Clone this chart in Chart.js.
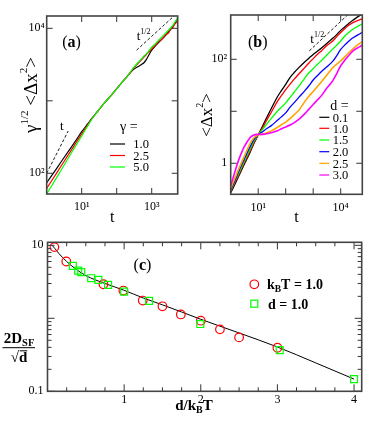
<!DOCTYPE html>
<html><head><meta charset="utf-8">
<script src="https://cdn.jsdelivr.net/npm/chart.js@4.4.1/dist/chart.umd.min.js"></script>
<style>
html,body{margin:0;padding:0;background:#fff;}
#wrap{position:relative;width:382px;height:439px;overflow:hidden;background:#fff;}
#wrap canvas{position:absolute;display:block;}
</style></head><body>
<div id="wrap">
<canvas id="cA" width="191" height="226" style="left:0;top:0;width:191px;height:226px"></canvas>
<canvas id="cB" width="191" height="226" style="left:191px;top:0;width:191px;height:226px"></canvas>
<canvas id="cC" width="382" height="213" style="left:0;top:226px;width:382px;height:213px"></canvas>
</div>
<script>
// ---------------- DATA ----------------
// panel (a)
const tA = [1,2,3,5,7,10,15,20,30,50,70,100,150,200,300,400,500,600,700,800,1000,1300,1600,2000,2500,3000,3500,4000,4500,5000,5500];
const msdGamma10 = [74,120,160,228,289,375,483,580,740,1000,1190,1470,1860,2180,2700,2950,3150,3350,3700,4150,5000,5800,6400,7200,8000,8900,9700,10500,11500,12500,13500];
const msdGamma25 = [62,104,141,207,268,350,470,575,740,1000,1190,1470,1860,2180,2800,3250,3650,4000,4350,4650,5200,5900,6600,7100,8200,8600,9800,10200,11400,12000,13500];
const msdGamma50 = [52,90,125,189,246,327,455,570,740,1000,1190,1470,1860,2180,2850,3350,3750,4150,4450,4800,5500,6200,6900,7700,8600,9400,10200,11000,12000,13000,14200];
const gammaLabels = ['1.0','2.5','5.0'];
const guideA1T = [1, 4.1], guideA1V = [100, 383];
const guideA2T = [370, 4600], guideA2V = [5000, 15200];
const aXTicks = [10,100,1000], aXLabels = ['10¹','','10³'];
const aYTicks = [100,1000,10000], aYLabels = ['10²','','10⁴'];

// panel (b)
const tB = [1,1.5,2,3,5,7,10,15,20,30,50,70,100,150,200,300,500,700,1000,1500,2000,3000,5000,7000,10000,15000,20000,30000,50000,61000];
const msdD01 = [0.27,0.42,0.58,0.92,1.6,2.4,3.5,5.4,7.4,11.3,19,25,33,46,55,69,90,105,124,146,165,198,250,295,360,430,495,580,700,740];
const msdD10 = [0.29,0.45,0.62,0.98,1.7,2.5,3.5,5.0,6.6,9.6,15.5,20,26,34,41,52,70,85,103,128,145,180,222,270,328,400,455,520,580,600];
const msdD15 = [0.30,0.48,0.66,1.05,1.85,2.65,3.5,4.6,5.6,7.3,10,12,14.5,19,23,30,44,55,66,82,95,118,155,185,225,290,330,390,455,480];
const msdD20 = [0.31,0.5,0.72,1.15,2.05,2.85,3.5,4.1,4.6,5.3,6.7,7.8,9.3,12.3,14.5,18.5,25,31,40,50,58,70,90,115,155,195,225,265,310,330];
const msdD25 = [0.33,0.55,0.8,1.3,2.35,3.1,3.5,3.65,3.85,4.2,4.9,5.5,6.2,7.4,8.5,10.5,15.5,19.5,24,31,37,48,68,80,93,115,135,165,205,218];
const msdD30 = [0.37,0.75,1.2,2.0,3.1,3.5,3.6,3.6,3.7,3.85,4.2,4.6,5.0,5.5,6.0,7.0,9.0,11,13.5,17,20,27,38,52,75,100,120,150,175,190];
const dLabels = ['0.1','1.0','1.5','2.0','2.5','3.0'];
const guideBT = [721, 18000], guideBV = [145, 716];
const bXTicks = [10,100,1000,10000], bXLabels = ['10¹','','','10⁴'];
const bYTicks = [1,10,100], bYLabels = ['1','','10²'];

// panel (c)
const circX = [0.09,0.245,0.73,0.99,1.243,1.5,1.74,2.0,2.25,2.5,3.0];
const circY = [9.45,6.0,2.93,2.40,1.75,1.46,1.13,0.927,0.706,0.548,0.395];
const sqX = [0.33,0.40,0.44,0.57,0.665,0.79,1.0,1.325,1.994,3.03,4.0];
const sqY = [5.23,4.5,4.29,3.54,3.36,2.87,2.32,1.73,0.835,0.367,0.147];
const fitX = [0.06,0.1,0.15,0.25,0.35,0.5,0.75,1.0,1.25,1.5,1.75,2.0,2.5,3.0,3.5,4.0];
const fitY = [10,8.95,7.7,6.0,4.9,3.85,3.0,2.42,1.9,1.53,1.22,0.97,0.63,0.405,0.245,0.147];
const cXTicks = [1,2,3,4], cXLabels = ['1','2','3','4'];
const cXMinor = [0.25,0.5,0.75,1.25,1.5,1.75,2.25,2.5,2.75,3.25,3.5,3.75];
const cYTicks = [0.1,1,10], cYLabels = ['0.1','','10'];
const cYMinor = [0.2,0.3,0.4,0.5,0.6,0.7,0.8,0.9,2,3,4,5,6,7,8,9];

// ---------------- HELPERS ----------------
const FONT = "'Liberation Serif','DejaVu Serif','Times New Roman',serif";
const pts = (xs, ys) => xs.map((x, i) => ({x: x, y: ys[i]}));

function txt(ctx, parts, x, y, align) {
  let w = 0;
  const ms = parts.map(p => {
    ctx.font = (p.bold ? 'bold ' : '') + p.size + 'px ' + FONT;
    const m = ctx.measureText(p.t).width; w += m; return m;
  });
  let cx = align === 'center' ? x - w / 2 : (align === 'right' ? x - w : x);
  parts.forEach((p, i) => {
    ctx.font = (p.bold ? 'bold ' : '') + p.size + 'px ' + FONT;
    ctx.fillStyle = p.color || '#000';
    ctx.textAlign = 'left'; ctx.textBaseline = 'alphabetic';
    ctx.fillText(p.t, cx, y + (p.dy || 0));
    cx += ms[i];
  });
  return w;
}
function line(ctx, x1, y1, x2, y2) { ctx.beginPath(); ctx.moveTo(x1, y1); ctx.lineTo(x2, y2); ctx.stroke(); }

function decoPlugin(opt) {
  return {
    id: 'deco',
    afterDatasetsDraw(chart) {
      const ctx = chart.ctx, a = chart.chartArea, sx = chart.scales.x, sy = chart.scales.y;
      ctx.save();
      ctx.strokeStyle = '#333'; ctx.lineWidth = 1;
      const mk = (sc, vals, len) => vals.forEach(v => {
        const p = sc.getPixelForValue(v);
        if (sc.isHorizontal()) { line(ctx, p, a.bottom, p, a.bottom - len); line(ctx, p, a.top, p, a.top + len); }
        else { line(ctx, a.left, p, a.left + len, p); line(ctx, a.right, p, a.right - len, p); }
      });
      mk(sx, opt.xMajor, opt.majLen); mk(sy, opt.yMajor, opt.majLen);
      if (opt.xMinor) mk(sx, opt.xMinor, opt.minLen);
      if (opt.yMinor) mk(sy, opt.yMinor, opt.minLen);
      ctx.strokeStyle = '#444'; ctx.lineWidth = 1.6;
      ctx.strokeRect(a.left, a.top, a.right - a.left, a.bottom - a.top);
      ctx.restore();
    },
    afterDraw(chart) { const ctx = chart.ctx; ctx.save(); opt.draw(chart, ctx); ctx.restore(); }
  };
}

function axis(type, min, max, ticks, labels, pad, size, fitSize, horiz) {
  return {
    type: type, min: min, max: max,
    grid: {display: false, drawTicks: false}, border: {display: false},
    ticks: {autoSkip: false, maxRotation: 0, minRotation: 0, padding: pad, color: '#000',
      font: {family: FONT, size: 12}, callback: (v, i) => labels[i]},
    afterBuildTicks: s => { s.ticks = ticks.map(v => ({value: v})); },
    afterFit: s => {
      if (horiz) s.height = fitSize; else s.width = fitSize;
      s.paddingLeft = 0; s.paddingRight = 0; s.paddingTop = 0; s.paddingBottom = 0;
    }
  };
}
const baseOpts = (pad, x, y) => ({
  responsive: false, animation: false, events: [],
  layout: {padding: pad},
  plugins: {legend: {display: false}, tooltip: {enabled: false}},
  scales: {x: x, y: y}
});
const lineDs = (label, data, color, order, width) => ({
  label: label, data: data, borderColor: color, borderWidth: width || 1.2,
  pointRadius: 0, fill: false, tension: 0.3, order: order
});

// ---------------- PANEL (a) ----------------
const colA = ['#000000', '#ff0000', '#00ff00'];
new Chart(document.getElementById('cA'), {
  type: 'line',
  data: {datasets: [
    lineDs(gammaLabels[0], pts(tA, msdGamma10), colA[0], 3),
    lineDs(gammaLabels[1], pts(tA, msdGamma25), colA[1], 2),
    lineDs(gammaLabels[2], pts(tA, msdGamma50), colA[2], 1),
    Object.assign(lineDs('t', pts(guideA1T, guideA1V), '#000', 5, 0.9), {borderDash: [3, 2], tension: 0}),
    Object.assign(lineDs('t1/2', pts(guideA2T, guideA2V), '#000', 5, 0.9), {borderDash: [3, 2], tension: 0})
  ]},
  options: baseOpts({left: 0, right: 13.3, top: 16, bottom: 0},
    axis('logarithmic', 1, 5530, aXTicks, aXLabels, 6, 12, 32, true),
    axis('logarithmic', 51.8, 14800, aYTicks, aYLabels, 2, 12, 46.7, false)),
  plugins: [decoPlugin({
    xMajor: aXTicks, yMajor: aYTicks, majLen: 6, minLen: 3,
    draw(chart, ctx) {
      txt(ctx, [{t: '(', size: 16}, {t: 'a', size: 16, bold: true}, {t: ')', size: 16}], 71.5, 46.5, 'center');
      txt(ctx, [{t: 't', size: 13}], 60, 130);
      txt(ctx, [{t: 't', size: 13}, {t: '1/2', size: 8, dy: -6}], 136.7, 40);
      txt(ctx, [{t: 'γ =', size: 14}], 120, 131);
      const ly = [144, 155.5, 167];
      chart.data.datasets.slice(0, 3).forEach((d, i) => {
        ctx.strokeStyle = d.borderColor; ctx.lineWidth = 1.2;
        line(ctx, 110, ly[i], 125, ly[i]);
        txt(ctx, [{t: d.label, size: 12.5}], 133.3, ly[i] + 4.3);
      });
      txt(ctx, [{t: 't', size: 16}], 112.2, 222, 'center');
      ctx.translate(37, 95); ctx.rotate(-Math.PI / 2);
      txt(ctx, [{t: 'γ', size: 19}, {t: '1/2', size: 11, dy: -9}, {t: ' <Δx', size: 19}, {t: '2', size: 11, dy: -10}, {t: '>', size: 19}], 0, 0, 'center');
    }
  })]
});

// ---------------- PANEL (b) ----------------
const colB = ['#000000', '#ff0000', '#00ff00', '#0000ff', '#ffa500', '#ff00ff'];
const seriesB = [msdD01, msdD10, msdD15, msdD20, msdD25, msdD30];
const dsB = seriesB.map((s, i) => lineDs(dLabels[i], pts(tB, s), colB[i], 6 - i, i >= 4 ? 1.6 : 1.3));
dsB.push(Object.assign(lineDs('t1/2', pts(guideBT, guideBV), '#000', 9, 0.9), {borderDash: [3, 2], tension: 0}));
new Chart(document.getElementById('cB'), {
  type: 'line',
  data: {datasets: dsB},
  options: baseOpts({left: 0, right: 19.7, top: 15, bottom: 0},
    axis('logarithmic', 1, 61000, bXTicks, bXLabels, 6, 12, 31.7, true),
    axis('logarithmic', 0.253, 711, bYTicks, bYLabels, 3.5, 12, 39.7, false)),
  plugins: [decoPlugin({
    xMajor: bXTicks, yMajor: bYTicks, majLen: 6, minLen: 3,
    draw(chart, ctx) {
      txt(ctx, [{t: '(', size: 16}, {t: 'b', size: 16, bold: true}, {t: ')', size: 16}], 66.7, 46.5, 'center');
      txt(ctx, [{t: 't', size: 13}, {t: '1/2', size: 8, dy: -6.5}], 119.3, 43);
      txt(ctx, [{t: 'd =', size: 14}], 139.3, 110);
      const ly = [117.3, 128.3, 140, 151.7, 163.3, 175];
      chart.data.datasets.slice(0, 6).forEach((d, i) => {
        ctx.strokeStyle = d.borderColor; ctx.lineWidth = 1.2;
        line(ctx, 128.3, ly[i], 138.3, ly[i]);
        txt(ctx, [{t: d.label, size: 12.5}], 141.7, ly[i] + 4.3);
      });
      txt(ctx, [{t: 't', size: 16}], 105.5, 222, 'center');
      ctx.translate(20.5, 115); ctx.rotate(-Math.PI / 2);
      txt(ctx, [{t: '<Δx', size: 17}, {t: '2', size: 10, dy: -9}, {t: '>', size: 17}], 0, 0, 'center');
    }
  })]
});

// ---------------- PANEL (c) ----------------
new Chart(document.getElementById('cC'), {
  type: 'line',
  data: {datasets: [
    {label: 'kBT = 1.0', data: pts(circX, circY), showLine: false, pointStyle: 'circle', pointRadius: 4.3,
      pointBorderColor: '#ff0000', pointBackgroundColor: 'rgba(0,0,0,0)', pointBorderWidth: 1.2, borderColor: '#ff0000', order: 2},
    {label: 'd = 1.0', data: pts(sqX, sqY), showLine: false, pointStyle: 'rect', pointRadius: 4.9,
      pointBorderColor: '#00ff00', pointBackgroundColor: 'rgba(0,0,0,0)', pointBorderWidth: 1.2, borderColor: '#00ff00', order: 1},
    {label: 'fit', data: pts(fitX, fitY), borderColor: '#000', borderWidth: 1, pointRadius: 0,
      cubicInterpolationMode: 'monotone', fill: false, order: 3}
  ]},
  options: baseOpts({left: 0, right: 20.3, top: 16.3, bottom: 0},
    axis('linear', 0, 4.1, cXTicks, cXLabels, 1.5, 12, 47.7, true),
    axis('logarithmic', 0.1, 11, cYTicks, cYLabels, 4, 12, 47.5, false)),
  plugins: [decoPlugin({
    xMajor: cXTicks, yMajor: cYTicks, xMinor: cXMinor, yMinor: cYMinor, majLen: 7, minLen: 4,
    draw(chart, ctx) {
      txt(ctx, [{t: '(', size: 16}, {t: 'c', size: 16, bold: true}, {t: ')', size: 16}], 142.5, 44, 'center');
      // legend
      ctx.strokeStyle = '#ff0000'; ctx.lineWidth = 1.2;
      ctx.beginPath(); ctx.arc(254.3, 58.3, 4.3, 0, Math.PI * 2); ctx.stroke();
      txt(ctx, [{t: 'k', size: 14, bold: true}, {t: 'B', size: 9.5, bold: true, dy: 3}, {t: 'T = 1.0', size: 14, bold: true}], 267, 63);
      ctx.strokeStyle = '#00ff00';
      ctx.strokeRect(254.3 - 3.5, 77.7 - 3.5, 7, 7);
      txt(ctx, [{t: 'd = 1.0', size: 14, bold: true}], 268, 82.5);
      // x title
      txt(ctx, [{t: 'd/k', size: 15, bold: true}, {t: 'B', size: 10, bold: true, dy: 3}, {t: 'T', size: 15, bold: true}], 194, 184, 'center');
      // y title
      txt(ctx, [{t: '2D', size: 15, bold: true}, {t: 'SF', size: 10.5, bold: true, dy: 3}], 19, 117, 'center');
      ctx.strokeStyle = '#000'; ctx.lineWidth = 1;
      line(ctx, 2.5, 121.7, 35, 121.7);
      const w = txt(ctx, [{t: '√d', size: 15, bold: true}], 19, 135.5, 'center');
      line(ctx, 19 - w / 2 + 9, 124.8, 19 + w / 2, 124.8);
    }
  })]
});
</script></body></html>
